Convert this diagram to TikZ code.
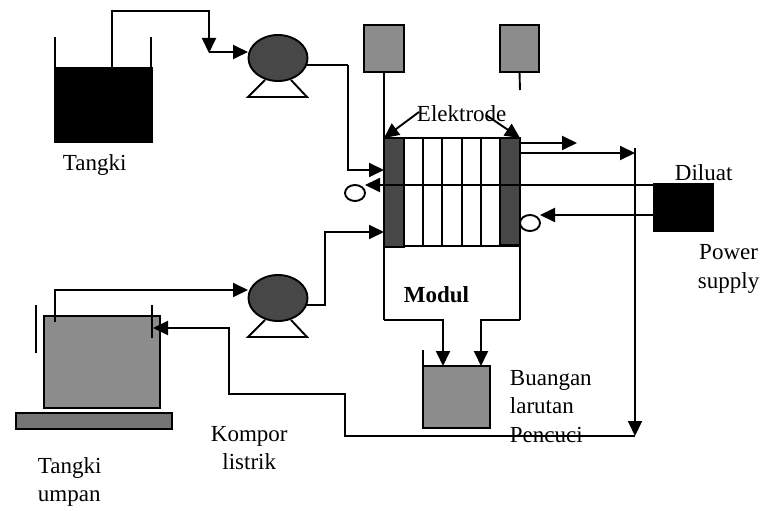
\documentclass[tikz,border=0pt]{standalone}
\usepackage{fontspec}
\setmainfont{Liberation Serif}
\usetikzlibrary{positioning, arrows.meta, shapes.geometric}
\definecolor{tankgray}{gray}{0.55}
\definecolor{darkgray}{gray}{0.28}
\begin{document}
\begin{tikzpicture}[x=1pt,y=-1pt,line width=1.9pt,
    flow/.style={-{Triangle[length=15pt,width=14pt]}},
    vessel/.style={draw,inner sep=0pt,outer sep=0pt,line width=1.2pt},
    pump/.style={ellipse,draw,fill=darkgray,minimum width=59pt,minimum height=46pt,inner sep=0pt,outer sep=0pt},
    label/.style={inner sep=0pt,font=\fontsize{23}{28.5}\selectfont}]
    \useasboundingbox (0,0) rectangle (760,511);
    % tangki
    \node[vessel,fill=black,minimum width=97pt,minimum height=74pt] (tangki) at (103.5,105) {};
    \coordinate (tangkiL) at (55,37);
    \coordinate (tangkiR) at (151,37);
    \draw (tangkiL) -- (tangkiL |- tangki.north);
    \draw (tangkiR) -- (tangkiR |- tangki.north);
    \node[label,anchor=west] (tangkiText) at (62,165) {Tangki};
    % pompa
    \node[pump] (pumpA) at (278,58) {};
    \coordinate (baseA1) at (248,97);
    \coordinate (baseA2) at (307,97);
    \coordinate (legA1) at (265,80);
    \coordinate (legA2) at (291,80);
    \draw (legA1) -- (baseA1) -- (baseA2) -- (legA2);
    \node[pump] (pumpB) at (278,298) {};
    \coordinate (baseB1) at (248,337);
    \coordinate (baseB2) at (307,337);
    \coordinate (legB1) at (265,320);
    \coordinate (legB2) at (291,320);
    \draw (legB1) -- (baseB1) -- (baseB2) -- (legB2);
    % kotak atas
    \node[vessel,fill=tankgray,minimum width=40pt,minimum height=47pt] (boxA) at (384,48.5) {};
    \node[vessel,fill=tankgray,minimum width=39pt,minimum height=47pt] (boxB) at (519.5,48.5) {};
    \coordinate (boxBend) at (520,90);
    \draw (boxB.south) -- (boxBend);
    % modul
    \node[draw,inner sep=0pt,outer sep=0pt,minimum width=136pt,minimum height=108pt] (modul) at (452,192) {};
    \node[vessel,fill=darkgray,minimum width=20pt,minimum height=109pt] (elekL) at (394,192.5) {};
    \node[vessel,fill=darkgray,minimum width=20pt,minimum height=107pt] (elekR) at (510,191.5) {};
    \foreach \x in {423,442,462,481}
        \draw (\x,138) -- (\x,246);
    \coordinate (modulBL) at (384,320);
    \coordinate (modulBR) at (520,320);
    \draw (boxA.south) -- (modulBL);
    \draw (elekR.south east) -- (modulBR);
    \node[label,anchor=west,font=\fontsize{23}{28.5}\selectfont\bfseries] (modulText) at (403,295) {Modul};
    % power supply
    \node[draw,fill=black,inner sep=0pt,outer sep=0pt,minimum width=59pt,minimum height=47pt] (power) at (683.5,207.5) {};
    \coordinate (midL) at (365,185);
    \coordinate (powerMid) at (654,185);
    \coordinate (powerLow) at (654,215);
    \coordinate (elekLow) at (540,215);
    \draw[flow] (powerMid) -- (midL);
    \draw[flow] (powerLow) -- (elekLow);
    \node[draw,fill=white,ellipse,inner sep=0pt,outer sep=0pt,minimum width=20pt,minimum height=16pt] (ringL) at (355,193) {};
    \node[draw,fill=white,ellipse,inner sep=0pt,outer sep=0pt,minimum width=20pt,minimum height=16pt] (ringR) at (530,223) {};
    % keluaran
    \coordinate (outA) at (520,143);
    \coordinate (outAend) at (577,143);
    \coordinate (outB) at (520,153);
    \coordinate (outBend) at (635,153);
    \coordinate (joinTop) at (635,148);
    \coordinate (joinLow) at (635,436);
    \draw[flow] (outA) -- (outAend);
    \draw[flow] (outB) -- (outBend);
    \draw[flow] (joinTop) -- (joinLow);
    % aliran tangki ke pompa
    \coordinate (riserA) at (112,11);
    \coordinate (dropA) at (209,11);
    \coordinate (teeA) at (209,53);
    \coordinate (pumpAin) at (248,52);
    \draw[flow] (tangki.north -| riserA) -- (riserA) -- (dropA) -- (teeA);
    \draw[flow] (teeA |- pumpAin) -- (pumpAin);
    \coordinate (outA1) at (348,65);
    \coordinate (outA2) at (348,170);
    \coordinate (inA) at (384,170);
    \draw (307,65) -- (outA1);
    \draw[flow] (outA1) -- (outA2) -- (inA);
    \coordinate (outB1) at (325,305);
    \coordinate (outB2) at (325,232);
    \coordinate (inB) at (384,232);
    \draw[flow] (307,305) -- (outB1) -- (outB2) -- (inB);
    % tangki umpan
    \node[vessel,fill=tankgray,minimum width=116pt,minimum height=92pt] (umpan) at (102,362) {};
    \node[vessel,fill=darkgray!75,minimum width=156pt,minimum height=16pt] (kompor) at (94,421) {};
    \coordinate (elecL1) at (36,305);
    \coordinate (elecL2) at (36,353);
    \coordinate (elecR1) at (152,305);
    \coordinate (elecR2) at (152,338);
    \draw (elecL1) -- (elecL2);
    \draw (elecR1) -- (elecR2);
    \coordinate (feedA) at (55,322);
    \coordinate (feedB) at (55,290);
    \coordinate (feedC) at (248,290);
    \draw[flow] (feedA) -- (feedB) -- (feedC);
    % buangan
    \node[vessel,fill=tankgray,minimum width=67pt,minimum height=62pt] (buangan) at (456.5,397) {};
    \coordinate (wallTop) at (423,350);
    \draw (wallTop) -- (buangan.south west);
    \coordinate (dropL) at (443,320);
    \coordinate (dropR) at (481,320);
    \draw[flow] (modulBL) -- (dropL) -- (dropL |- buangan.north);
    \draw[flow] (modulBR) -- (dropR) -- (dropR |- buangan.north);
    % aliran balik
    \coordinate (backA) at (345,436);
    \coordinate (backB) at (345,394);
    \coordinate (backC) at (229,394);
    \coordinate (backD) at (229,328);
    \coordinate (backE) at (153,328);
    \draw[flow] (joinLow) -- (backA) -- (backB) -- (backC) -- (backD) -- (backE);
    % elektrode
    \node[label,anchor=west] (elekText) at (416,114) {Elektrode};
    \coordinate (pointL) at (419,112);
    \coordinate (pointR) at (486,115);
    \draw[flow] (pointL) -- (elekL.north west);
    \draw[flow] (pointR) -- (elekR.north east);
    % teks
    \node[label,anchor=west] (diluatText) at (674,173) {Diluat};
    \node[label,anchor=west,align=center] (powerText) at (697,269) {Power\\supply};
    \node[label,anchor=west,align=center] (komporText) at (210,448) {Kompor\\listrik};
    \node[label,anchor=west,align=left] (umpanText) at (37,482) {Tangki\\umpan};
    \node[label,anchor=north west,align=left] (buanganText) at (509,369) {Buangan\\larutan\\Pencuci};
\end{tikzpicture}
\end{document}
